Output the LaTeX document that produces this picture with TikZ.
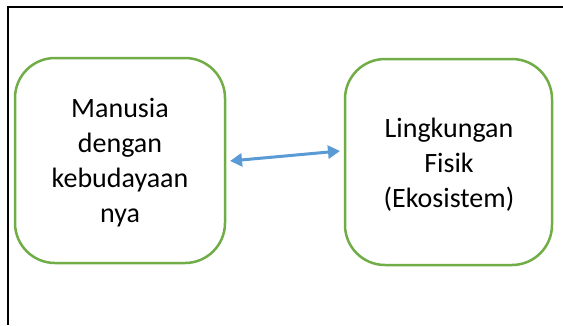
\documentclass[tikz,border=0pt]{standalone}
\usepackage{fontspec}
\setmainfont{Carlito}
\usetikzlibrary{arrows.meta}
\definecolor{boxgreen}{HTML}{70AD47}
\definecolor{arrowblue}{HTML}{5B9BD5}
\tikzset{
  roundbox/.style={draw=boxgreen, line width=2.5pt, rounded corners=40pt, fill=white},
  boxtext/.style={align=center, font=\fontsize{28}{35}\selectfont},
  linkarrow/.style={draw=arrowblue, line width=3pt, {Triangle[length=12pt,width=13pt]}-{Triangle[length=12pt,width=13pt]}}
}
\begin{document}
\begin{tikzpicture}[x=1pt,y=-1pt]
\useasboundingbox (0,0) rectangle (563,325);
\coordinate (frameTR) at (563,7);
\coordinate (frameTL) at (8,7);
\coordinate (frameBL) at (8,325);
\draw[line width=2pt] (frameTR) -- (frameTL) -- (frameBL);
\draw[roundbox] (15,58) rectangle (225,263);
\draw[roundbox] (345,59) rectangle (552,265);
\node[boxtext] (left) at (120,163) {Manusia\\dengan\\kebudayaan\\nya};
\node[boxtext] (right) at (449,165) {Lingkungan\\Fisik\\(Ekosistem)};
\coordinate (aL) at (230,161);
\coordinate (aR) at (340,151);
\draw[linkarrow] (aL) -- (aR);
\end{tikzpicture}
\end{document}
